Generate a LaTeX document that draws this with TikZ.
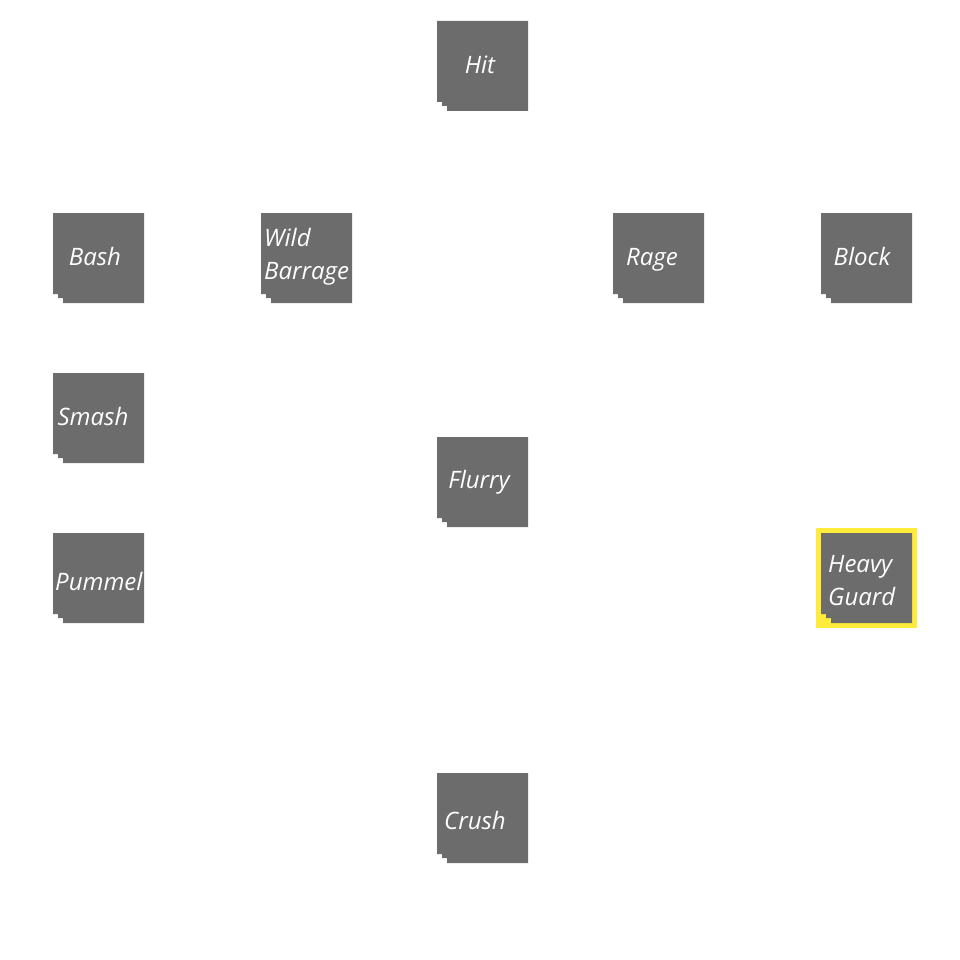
\documentclass[tikz,border=0pt]{standalone}
\usepackage{fontspec}
\setmainfont{Open Sans}
\definecolor{boxgray}{RGB}{108,108,108}
\definecolor{hiyellow}{RGB}{255,235,59}
\tikzset{
  lbl/.style={text=white, font=\itshape\fontsize{24}{33}\selectfont, align=left, inner sep=0pt, anchor=base},
  stackfill/.style={fill=boxgray},
}
\newcommand\stackbox[2]{% left x, top y
  \fill[stackfill] (#1,#2) -- ++(91,0) -- ++(0,90) -- ++(-81,0) -- ++(0,-5) -- ++(-5,0) -- ++(0,-4) -- ++(-5,0) -- cycle;
}
\begin{document}
\begin{tikzpicture}[x=1pt,y=-1pt]
\useasboundingbox[fill=white] (0,0) rectangle (960,960);
\fill[hiyellow] (816,528) rectangle (917,628);
\stackbox{437}{21}
\stackbox{53}{213}
\stackbox{261}{213}
\stackbox{613}{213}
\stackbox{821}{213}
\stackbox{53}{373}
\stackbox{437}{437}
\stackbox{53}{533}
\stackbox{821}{533}
\stackbox{437}{773}
\node[lbl] (hit) at (480,74) {Hit};
\node[lbl] (bash) at (95,265.5) {Bash};
\node[lbl] (rage) at (652,265.5) {Rage};
\node[lbl] (block) at (862,265.5) {Block};
\node[lbl] (smash) at (93,425.5) {Smash};
\node[lbl] (flurry) at (479,488.5) {Flurry};
\node[lbl] (crush) at (475,829) {Crush};
\node[lbl, anchor=base west] (pummel) at (55,590.5) {Pummel};
\node[lbl, anchor=north west] (wild) at (264,228) {Wild\\Barrage};
\node[lbl, anchor=north west] (heavy) at (828,555) {Heavy\\Guard};
\end{tikzpicture}
\end{document}
